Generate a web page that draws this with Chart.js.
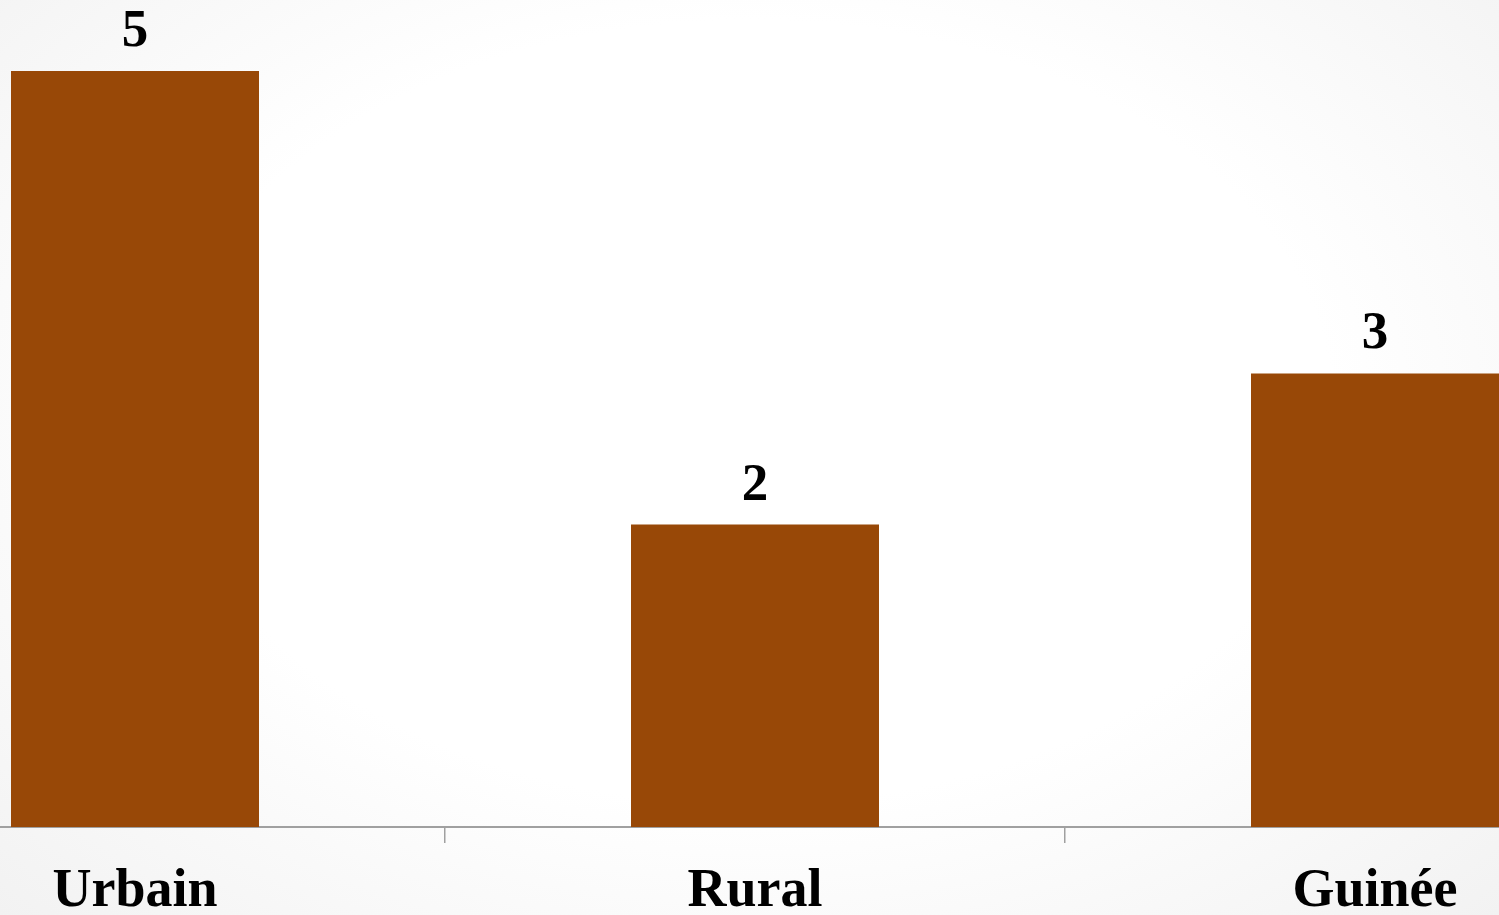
<!DOCTYPE html>
<html>
<head>
<meta charset="utf-8">
<script src="https://cdn.jsdelivr.net/npm/chart.js@4"></script>
<style>
  html, body { margin:0; padding:0; width:1499px; height:915px; overflow:hidden; }
  body { background: radial-gradient(ellipse at 50% 45%, #ffffff 0%, #ffffff 55%, #f2f2f2 100%); position:relative; }
  #c { position:absolute; left:-175px; top:0; }
</style>
</head>
<body>
<canvas id="c" width="1860" height="941"></canvas>
<script>
const categories = ["Urbain", "Rural", "Guinée"];
const values = [5, 2, 3];

const valueLabels = {
  id: 'valueLabels',
  afterDatasetsDraw(chart) {
    const ctx = chart.ctx;
    const meta = chart.getDatasetMeta(0);
    ctx.save();
    ctx.font = 'bold 53px "Liberation Serif", "Times New Roman", serif';
    ctx.fillStyle = '#000';
    ctx.textAlign = 'center';
    ctx.textBaseline = 'alphabetic';
    meta.data.forEach((bar, i) => {
      ctx.fillText(String(values[i]), bar.x, bar.y - 25);
    });
    ctx.restore();
  }
};

new Chart(document.getElementById('c'), {
  type: 'bar',
  data: {
    labels: categories,
    datasets: [{
      data: values,
      backgroundColor: '#984807',
      borderWidth: 0,
      categoryPercentage: 1.0,
      barPercentage: 0.4
    }]
  },
  options: {
    responsive: false,
    animation: false,
    layout: { padding: { top: 71, left: 0, right: 0, bottom: 0 } },
    plugins: { legend: { display: false }, tooltip: { enabled: false } },
    scales: {
      y: { display: false, min: 0, max: 5 },
      x: {
        offset: true,
        border: { display: true, color: '#a0a0a0', width: 2 },
        grid: { display: true, drawOnChartArea: false, drawTicks: true, tickLength: 16, color: '#a0a0a0', lineWidth: 1.5, offset: true },
        ticks: {
          color: '#000',
          padding: 22,
          maxRotation: 0,
          font: { family: '"Liberation Serif", "Times New Roman", serif', size: 54, weight: 'bold', lineHeight: 1.0 }
        }
      }
    }
  },
  plugins: [valueLabels]
});
</script>
</body>
</html>
